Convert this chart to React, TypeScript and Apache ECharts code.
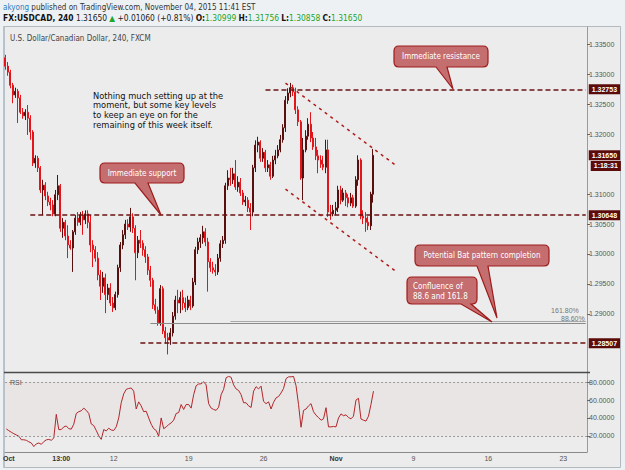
import React, { useEffect, useRef } from 'react';
import * as echarts from 'echarts';

// ---------- DATA ----------
const categories: string[] = Array.from({ length: 233 }, (_, i) => `b${i}`);

const timeTicks: [number, string, boolean][] = [
  [1, 'Oct', true], [22, '13:00', true], [43, '12', false], [73, '19', false],
  [103, '26', false], [132, 'Nov', true], [163, '9', false], [193, '16', false], [223, '23', false],
];

// [open, close, low, high]
const candles: number[][] = [
  [1.3328, 1.3314, 1.3308, 1.3333], [1.3314, 1.3304, 1.3298, 1.3321], [1.3304, 1.3282, 1.3277, 1.3308],
  [1.3282, 1.3266, 1.3252, 1.3286], [1.3266, 1.3272, 1.3261, 1.3278], [1.3272, 1.3261, 1.3219, 1.3276],
  [1.3261, 1.3237, 1.3234, 1.3266], [1.3237, 1.3231, 1.3226, 1.3244], [1.3231, 1.3237, 1.3224, 1.3242],
  [1.3237, 1.3227, 1.3199, 1.3249], [1.3227, 1.3204, 1.3191, 1.3232], [1.3204, 1.3152, 1.3147, 1.3207],
  [1.3152, 1.3160, 1.3144, 1.3165], [1.3160, 1.3144, 1.3137, 1.3164], [1.3144, 1.3107, 1.3102, 1.3147],
  [1.3107, 1.3115, 1.3065, 1.3124], [1.3115, 1.3097, 1.3090, 1.3120], [1.3097, 1.3087, 1.3080, 1.3104],
  [1.3087, 1.3082, 1.3073, 1.3094], [1.3082, 1.3067, 1.3063, 1.3090], [1.3067, 1.3099, 1.3063, 1.3107],
  [1.3099, 1.3114, 1.3090, 1.3132], [1.3114, 1.3043, 1.3037, 1.3117], [1.3043, 1.3053, 1.3027, 1.3060],
  [1.3053, 1.3030, 1.3023, 1.3057], [1.3030, 1.3015, 1.2993, 1.3048], [1.3015, 1.3010, 1.3007, 1.3023],
  [1.3010, 1.3037, 1.2970, 1.3040], [1.3037, 1.3060, 1.3032, 1.3065], [1.3060, 1.3053, 1.3047, 1.3070],
  [1.3053, 1.3065, 1.3048, 1.3070], [1.3065, 1.3057, 1.3032, 1.3072], [1.3057, 1.3067, 1.3050, 1.3073],
  [1.3067, 1.3053, 1.3043, 1.3073], [1.3053, 1.3015, 1.3003, 1.3065], [1.3015, 1.3007, 1.2978, 1.3023],
  [1.3007, 1.2993, 1.2987, 1.3013], [1.2993, 1.2965, 1.2956, 1.3003], [1.2965, 1.2946, 1.2923, 1.2973],
  [1.2946, 1.2960, 1.2935, 1.2970], [1.2960, 1.2932, 1.2901, 1.2967], [1.2932, 1.2943, 1.2923, 1.2950],
  [1.2943, 1.2918, 1.2913, 1.2951], [1.2918, 1.2910, 1.2903, 1.2928], [1.2910, 1.2932, 1.2906, 1.2937],
  [1.2932, 1.2977, 1.2927, 1.2982], [1.2977, 1.3015, 1.2970, 1.3020], [1.3015, 1.3032, 1.3008, 1.3040],
  [1.3032, 1.3050, 1.3025, 1.3057], [1.3050, 1.3045, 1.3040, 1.3058], [1.3045, 1.3062, 1.3037, 1.3077],
  [1.3062, 1.3043, 1.3035, 1.3068], [1.3043, 1.3002, 1.2956, 1.3048], [1.3002, 1.3023, 1.2993, 1.3030],
  [1.3023, 1.3018, 1.3010, 1.3040], [1.3018, 1.3007, 1.2997, 1.3023], [1.3007, 1.2995, 1.2985, 1.3013],
  [1.2995, 1.2973, 1.2965, 1.3000], [1.2973, 1.2956, 1.2945, 1.2980], [1.2956, 1.2915, 1.2908, 1.2960],
  [1.2915, 1.2906, 1.2900, 1.2925], [1.2906, 1.2885, 1.2880, 1.2912], [1.2885, 1.2942, 1.2880, 1.2948],
  [1.2942, 1.2871, 1.2866, 1.2946], [1.2871, 1.2860, 1.2850, 1.2878], [1.2860, 1.2856, 1.2832, 1.2868],
  [1.2856, 1.2868, 1.2848, 1.2876], [1.2868, 1.2896, 1.2862, 1.2903], [1.2896, 1.2923, 1.2890, 1.2930],
  [1.2923, 1.2918, 1.2901, 1.2940], [1.2918, 1.2927, 1.2901, 1.2937], [1.2927, 1.2918, 1.2906, 1.2940],
  [1.2918, 1.2910, 1.2903, 1.2927], [1.2910, 1.2923, 1.2906, 1.2930], [1.2923, 1.2913, 1.2906, 1.2930],
  [1.2913, 1.2953, 1.2910, 1.2960], [1.2953, 1.3007, 1.2948, 1.3012], [1.3007, 1.3020, 1.3000, 1.3027],
  [1.3020, 1.3027, 1.3010, 1.3033], [1.3027, 1.3037, 1.3017, 1.3047], [1.3037, 1.3020, 1.3013, 1.3043],
  [1.3020, 1.2987, 1.2937, 1.3027], [1.2987, 1.2977, 1.2970, 1.2993], [1.2977, 1.2973, 1.2967, 1.2987],
  [1.2973, 1.2970, 1.2963, 1.2983], [1.2970, 1.2993, 1.2965, 1.3000], [1.2993, 1.3017, 1.2987, 1.3023],
  [1.3017, 1.3023, 1.3010, 1.3030], [1.3023, 1.3114, 1.3017, 1.3119], [1.3114, 1.3127, 1.3107, 1.3140],
  [1.3127, 1.3124, 1.3114, 1.3144], [1.3124, 1.3134, 1.3117, 1.3144], [1.3134, 1.3112, 1.3107, 1.3157],
  [1.3112, 1.3120, 1.3104, 1.3130], [1.3120, 1.3102, 1.3097, 1.3127], [1.3102, 1.3087, 1.3082, 1.3107],
  [1.3087, 1.3090, 1.3080, 1.3097], [1.3090, 1.3077, 1.3070, 1.3095], [1.3077, 1.3070, 1.3040, 1.3085],
  [1.3070, 1.3144, 1.3063, 1.3149], [1.3144, 1.3182, 1.3137, 1.3190], [1.3182, 1.3187, 1.3170, 1.3196],
  [1.3187, 1.3160, 1.3154, 1.3190], [1.3160, 1.3170, 1.3154, 1.3177], [1.3170, 1.3144, 1.3137, 1.3174],
  [1.3144, 1.3149, 1.3137, 1.3157], [1.3149, 1.3130, 1.3124, 1.3154], [1.3130, 1.3157, 1.3127, 1.3164],
  [1.3157, 1.3164, 1.3150, 1.3174], [1.3164, 1.3174, 1.3160, 1.3182], [1.3174, 1.3191, 1.3170, 1.3199],
  [1.3191, 1.3211, 1.3186, 1.3217], [1.3211, 1.3257, 1.3204, 1.3264], [1.3257, 1.3269, 1.3251, 1.3277],
  [1.3269, 1.3278, 1.3262, 1.3286], [1.3278, 1.3271, 1.3264, 1.3283], [1.3271, 1.3241, 1.3234, 1.3278],
  [1.3241, 1.3221, 1.3214, 1.3247], [1.3221, 1.3127, 1.3124, 1.3224], [1.3127, 1.3174, 1.3090, 1.3194],
  [1.3174, 1.3197, 1.3170, 1.3207], [1.3197, 1.3217, 1.3191, 1.3227], [1.3217, 1.3194, 1.3187, 1.3237],
  [1.3194, 1.3179, 1.3174, 1.3204], [1.3179, 1.3164, 1.3157, 1.3194], [1.3164, 1.3157, 1.3135, 1.3174],
  [1.3157, 1.3150, 1.3144, 1.3165], [1.3150, 1.3145, 1.3140, 1.3164], [1.3145, 1.3174, 1.3135, 1.3191],
  [1.3174, 1.3070, 1.3062, 1.3191], [1.3070, 1.3067, 1.3057, 1.3082], [1.3067, 1.3073, 1.3063, 1.3082],
  [1.3073, 1.3077, 1.3065, 1.3087], [1.3077, 1.3107, 1.3070, 1.3114], [1.3107, 1.3090, 1.3083, 1.3114],
  [1.3090, 1.3102, 1.3087, 1.3110], [1.3102, 1.3094, 1.3080, 1.3107], [1.3094, 1.3085, 1.3078, 1.3100],
  [1.3085, 1.3094, 1.3080, 1.3102], [1.3094, 1.3080, 1.3077, 1.3099], [1.3080, 1.3124, 1.3077, 1.3130],
  [1.3124, 1.3157, 1.3114, 1.3165], [1.3157, 1.3063, 1.3058, 1.3160], [1.3063, 1.3060, 1.3050, 1.3073],
  [1.3060, 1.3053, 1.3037, 1.3070], [1.3053, 1.3047, 1.3040, 1.3063], [1.3047, 1.3100, 1.3040, 1.3104],
  [1.30999, 1.3165, 1.30858, 1.31756],
];

const rsi: number[] = [
  27.7, 25.8, 24, 22.4, 21, 19.6, 15.6, 15.6, 15, 13.3, 12, 8, 11, 12, 10.5, 13.5, 15.5, 16, 15, 17.5,
  44, 27, 27, 30, 31, 28, 27.5, 33, 45, 47, 48, 51, 48.5, 45, 33.3, 31.5, 26, 20, 16, 27,
  25.5, 28.5, 26.5, 26, 30, 40, 57, 67, 72, 73, 73.5, 70, 50, 58, 53.5, 47, 47.5, 40, 33, 28,
  26, 19.5, 40, 28, 30, 32.5, 34.5, 37.5, 45, 46, 55, 49.5, 55, 55, 51, 66, 76, 78, 78.2, 80.5,
  77, 56, 51, 49.5, 48.5, 52, 66, 72, 85, 86.5, 85.5, 77, 72.5, 70.8, 66, 57, 57, 53.5, 51.7, 70,
  75, 72.5, 75.6, 58.5, 56, 58, 50, 57.5, 62.5, 64, 68, 73, 84, 86, 86, 86.5, 76, 55, 29.6, 48.5,
  50, 53.5, 56, 47, 43, 40.5, 37.5, 39, 51.5, 30, 30, 30.5, 30, 40, 44.5, 42.5, 43.5, 40.5, 39, 42,
  60, 62, 38.8, 37.5, 36.5, 42, 55, 70,
];

const priceTicks = [1.29, 1.295, 1.3, 1.305, 1.31, 1.32, 1.325, 1.33, 1.335];
const rsiTicks = [20, 40, 60, 80];

const resistance = 1.32753;
const support = 1.30648;
const lowLevel = 1.28507;
const lastPrice = 1.3165;
const countdownLevel = 1.31471;
const fib886 = 1.2884;
const fib1618 = 1.2888;
const channelUpper: [string, number][] = [['b112', 1.32857], ['b156', 1.31484]];
const channelLower: [string, number][] = [['b112', 1.31084], ['b156', 1.29713]];

const commentLines: string[] = [
  'Nothing much setting up at the',
  'moment, but some key levels',
  'to keep an eye on for the',
  'remaining of this week itself.',
];

// ---------- STYLE ----------
const FONT = "'DejaVu Sans Condensed', 'DejaVu Sans', sans-serif";
const WIDE = "'DejaVu Sans', Verdana, sans-serif";
const AXF = "'Liberation Sans', Arial, sans-serif";
const UP = '#5a0f0f';
const DOWN = '#e3151b';
const MAROON = '#5c0b0b';
const CALL_FILL = '#c46e70';
const CALL_STROKE = '#9e1b1b';

function calloutPath(x0: number, y0: number, x1: number, y1: number, r: number,
  bx1: number, bx2: number, tx: number, ty: number) {
  return `M${x0 + r} ${y0} H${x1 - r} Q${x1} ${y0} ${x1} ${y0 + r} V${y1 - r} Q${x1} ${y1} ${x1 - r} ${y1} ` +
    `H${bx2} L${tx} ${ty} L${bx1} ${y1} H${x0 + r} Q${x0} ${y1} ${x0} ${y1 - r} V${y0 + r} Q${x0} ${y0} ${x0 + r} ${y0} Z`;
}

const callouts = [
  { name: 'coRes', d: calloutPath(394, 46, 488, 67, 5, 436, 447, 453, 89) },
  { name: 'coSup', d: calloutPath(100, 163, 184, 183, 5, 135, 148, 161, 215) },
  { name: 'coBat', d: calloutPath(415, 245, 549, 266, 5, 477, 488, 497, 318) },
  { name: 'coConf', d: calloutPath(407, 277, 477, 304, 5, 461, 471, 492, 322) },
];
callouts.forEach((c) => {
  echarts.graphic.registerShape(c.name, echarts.graphic.extendPath(c.d, {}));
});

const labelMap: Record<number, string> = {};
timeTicks.forEach(([i, t, b]) => { labelMap[i] = b ? `{b|${t}}` : t; });

const tagLabel = (text: string) => ({
  show: true, position: 'end', distance: 3, formatter: text, color: '#fff',
  backgroundColor: MAROON, padding: [2, 3, 1, 3], fontSize: 7, fontWeight: 'bold', fontFamily: AXF,
});
const dashMaroon = { color: '#6a1010', type: [5, 3], width: 1.5 };
const dashChannel = { color: '#b01a1a', type: [3, 4], width: 1.5 };
const fibLine = { color: '#8a8a8a', type: 'solid', width: 1 };
const hidden = { color: 'rgba(0,0,0,0)', width: 0 };

const txt = (x: number, y: number, text: string, extra: any = {}) => ({
  type: 'text', x, y, z: 60, silent: true,
  style: { text, fontSize: 8, fontFamily: FONT, fill: '#222', align: 'left', verticalAlign: 'middle', ...extra },
});

export default function App() {
  const ref = useRef<HTMLDivElement>(null);
  useEffect(() => {
    if (!ref.current) return;
    const chart = echarts.init(ref.current, undefined, { renderer: 'svg' });
    const option: any = {
      animation: false,
      backgroundColor: '#eef1f4',
      grid: [
        { left: 4, top: 27, width: 583, height: 345, show: false },
        { left: 4, top: 373, width: 583, height: 79, show: false },
      ],
      xAxis: [
        {
          type: 'category', gridIndex: 0, data: categories, boundaryGap: true,
          axisLine: { show: false }, axisTick: { show: false }, axisLabel: { show: false }, splitLine: { show: false },
        },
        {
          type: 'category', gridIndex: 1, data: categories, boundaryGap: true,
          axisLine: { show: true, lineStyle: { color: '#8a8a8a' } }, axisTick: { show: false },
          splitLine: { show: false },
          axisLabel: {
            interval: 0, margin: 3, fontSize: 7, color: '#555', fontFamily: AXF,
            formatter: (_v: string, i: number) => labelMap[i] ?? '',
            rich: { b: { fontWeight: 'bold', fontSize: 7, color: '#333', fontFamily: AXF } },
          },
        },
      ],
      yAxis: [
        {
          type: 'value', gridIndex: 0, position: 'right', min: 1.28026, max: 1.33795,
          axisLine: { show: true, lineStyle: { color: '#9a9a9a' } },
          axisTick: { show: true, length: 3, customValues: priceTicks, lineStyle: { color: '#666' } },
          axisLabel: { customValues: priceTicks, formatter: (v: number) => v.toFixed(5), fontSize: 7, color: '#555', margin: 2, fontFamily: AXF },
          splitLine: { show: false },
        },
        {
          type: 'value', gridIndex: 1, position: 'right', min: 1.9, max: 90.3,
          axisLine: { show: true, lineStyle: { color: '#9a9a9a' } },
          axisTick: { show: true, length: 3, customValues: rsiTicks, lineStyle: { color: '#666' } },
          axisLabel: { customValues: rsiTicks, formatter: (v: number) => v.toFixed(4), fontSize: 7, color: '#555', margin: 2, fontFamily: AXF },
          splitLine: { show: false },
        },
      ],
      series: [
        {
          type: 'candlestick', xAxisIndex: 0, yAxisIndex: 0, data: candles, barWidth: 1.5,
          itemStyle: { color: UP, color0: DOWN, borderColor: UP, borderColor0: DOWN, borderWidth: 1 },
          markLine: {
            silent: true, symbol: ['none', 'none'], animation: false,
            label: { show: false },
            data: [
              [{ coord: ['b104', resistance], lineStyle: dashMaroon, label: tagLabel(resistance.toFixed(5)) }, { coord: ['b232', resistance] }],
              [{ coord: ['b10', support], lineStyle: dashMaroon, label: tagLabel(support.toFixed(5)) }, { coord: ['b232', support] }],
              [{ coord: ['b54', lowLevel], lineStyle: dashMaroon, label: tagLabel(lowLevel.toFixed(5)) }, { coord: ['b232', lowLevel] }],
              [{ coord: ['b147', lastPrice], lineStyle: hidden, label: tagLabel(lastPrice.toFixed(5)) }, { coord: ['b232', lastPrice] }],
              [{ coord: ['b147', countdownLevel], lineStyle: hidden, label: { ...tagLabel('1:18:31'), distance: 5 } }, { coord: ['b232', countdownLevel] }],
              [{ coord: ['b58', fib886], lineStyle: fibLine, label: { show: true, position: 'insideEndTop', formatter: '88.60%', fontSize: 7, color: '#777', fontFamily: AXF, distance: 1 } }, { coord: ['b232', fib886] }],
              [{ coord: ['b90', fib1618], lineStyle: { ...fibLine, color: '#a8a8a8' }, label: { show: true, position: 'insideEndTop', formatter: '161.80%', fontSize: 7, color: '#777', fontFamily: AXF, distance: 7 } }, { coord: ['b232', fib1618] }],
              [{ coord: channelUpper[0], lineStyle: dashChannel }, { coord: channelUpper[1] }],
              [{ coord: channelLower[0], lineStyle: dashChannel }, { coord: channelLower[1] }],
            ],
          },
        },
        {
          type: 'line', xAxisIndex: 1, yAxisIndex: 1, data: rsi, symbol: 'none',
          lineStyle: { color: '#b1262a', width: 1 },
          markArea: { silent: true, itemStyle: { color: 'rgba(200,120,120,0.06)' }, data: [[{ yAxis: 20 }, { yAxis: 80 }]] },
          markLine: {
            silent: true, symbol: ['none', 'none'], label: { show: false },
            lineStyle: { color: '#9a9a9a', type: [2, 2], width: 1 },
            data: [{ yAxis: 20 }, { yAxis: 80 }],
          },
        },
      ],
      graphic: [
        { type: 'rect', z: -10, silent: true, shape: { x: 3.5, y: 26.5, width: 617, height: 441 }, style: { fill: '#ececec', stroke: '#b3b9bf', lineWidth: 1 } },
        { type: 'line', z: -9, silent: true, shape: { x1: 4, y1: 27, x2: 4, y2: 467 }, style: { stroke: '#b9c2cb', lineWidth: 2 } },
        { type: 'line', z: 5, silent: true, shape: { x1: 4, y1: 372.5, x2: 590, y2: 372.5 }, style: { stroke: '#4a4a4a', lineWidth: 1.5 } },
        txt(3, 7, '{a|akyong}{n| published on TradingView.com, November 04, 2015 11:41 EST}', {
          rich: { a: { fill: '#2a7cc0', fontSize: 8, fontFamily: FONT }, n: { fill: '#333', fontSize: 8, fontFamily: FONT } },
        }),
        txt(3, 18, '{b|FX:USDCAD, 240} {n|1.31650} {g|▲} {n|+0.01060 (+0.81%)} {b|O:}{g|1.30999} {b|H:}{g|1.31756} {b|L:}{g|1.30858} {b|C:}{g|1.31650}', {
          rich: {
            b: { fill: '#111', fontWeight: 'bold', fontSize: 8.4, fontFamily: FONT },
            n: { fill: '#222', fontSize: 8.4, fontFamily: FONT },
            g: { fill: '#22a52b', fontSize: 8.4, fontFamily: FONT },
          },
        }),
        txt(10, 38, 'U.S. Dollar/Canadian Dollar, 240, FXCM', { fill: '#444' }),
        txt(10, 382, 'RSI', { fill: '#555', fontSize: 7, fontFamily: AXF }),
        ...commentLines.map((line, k) => txt(93, 95.5 + k * 9.8, line, { fontSize: 8.3, fontFamily: WIDE, fill: '#111' })),
        ...callouts.map((c) => ({
          type: c.name, x: 0, y: 0, z: 50, silent: true,
          style: { fill: CALL_FILL, stroke: CALL_STROKE, lineWidth: 1.2 },
        })),
        txt(441, 56.5, 'Immediate resistance', { fill: '#fff', align: 'center' }),
        txt(142, 173, 'Immediate support', { fill: '#fff', align: 'center' }),
        txt(482, 255.5, 'Potential Bat pattern completion', { fill: '#fff', align: 'center' }),
        txt(413, 286, 'Confluence of', { fill: '#fff' }),
        txt(413, 296, '88.6 and 161.8', { fill: '#fff' }),
      ],
    };
    chart.setOption(option);
    return () => chart.dispose();
  }, []);
  return <div ref={ref} style={{ position: 'absolute', left: 0, top: 0, width: 625, height: 470 }} />;
}
